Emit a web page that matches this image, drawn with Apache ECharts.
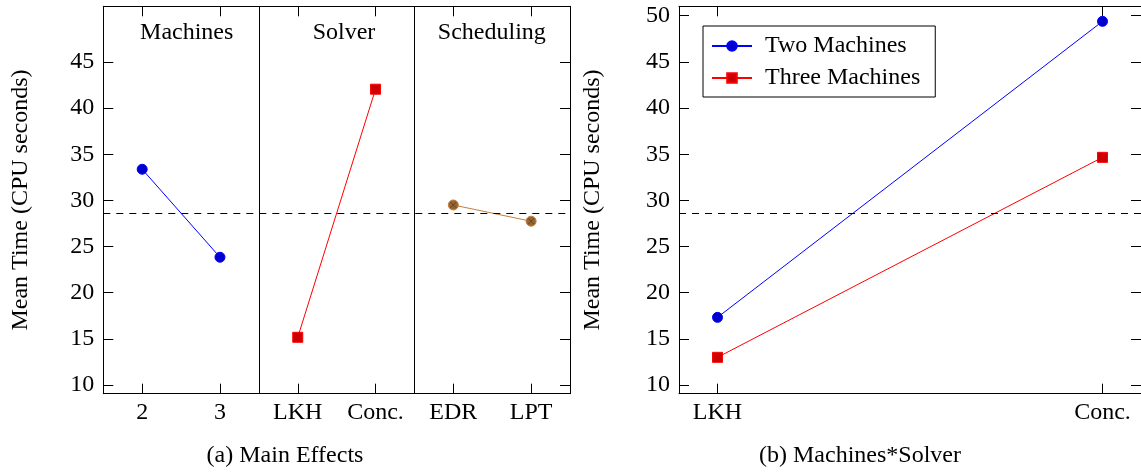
<!DOCTYPE html>
<html>
<head>
<meta charset="utf-8">
<style>
  html, body { margin: 0; padding: 0; background: #fff; }
  #chart { width: 1141px; height: 473px; }
</style>
<script src="https://cdn.jsdelivr.net/npm/echarts@6/dist/echarts.min.js"></script>
</head>
<body>
<div id="chart"></div>
<script>
// main effects, one pair of levels per factor
const factorNames = ['Machines', 'Solver', 'Scheduling']
const machineLevels = ['2', '3']
const machineMeans = [33.37, 23.84]
const solverLevels = ['LKH', 'Conc.']
const solverMeans = [15.17, 42.04]
const schedLevels = ['EDR', 'LPT']
const schedMeans = [29.5, 27.74]
const grandMean = 28.6

// interaction Machines*Solver
const twoMachines = [17.33, 49.39]
const threeMachines = [13.0, 34.66]

const yTicksLeft = [10, 15, 20, 25, 30, 35, 40, 45]
const yTicksRight = [10, 15, 20, 25, 30, 35, 40, 45, 50]

const FONT = 'Liberation Serif'
const FS = 24
const allLevels = machineLevels.concat(solverLevels, schedLevels)
const leftTickPos = allLevels.map((l, i) => i + 0.5)

// factor i, level j -> x = 2i + 0.5 + j
function toPairs (means, factor) {
  return means.map((v, j) => [2 * factor + 0.5 + j, v])
}

const chart = echarts.init(document.getElementById('chart'), null, { renderer: 'canvas' })

const axisLine = { show: true, onZero: false, lineStyle: { color: '#000', width: 1 } }
const labelStyle = { color: '#000', fontFamily: FONT, fontSize: FS }

function tickIn (values) {
  return { show: true, inside: true, length: 10, customValues: values, lineStyle: { color: '#000', width: 1 } }
}

const brown = '#bf8040'
const fontCss = FS + 'px "' + FONT + '"'

chart.setOption({
  animation: false,
  backgroundColor: '#fff',
  grid: [
    { left: 103.3, top: 6.3, width: 466.7, height: 387.4 },
    { left: 679, top: 6.3, width: 466.5, height: 387.4 }
  ],
  xAxis: [
    {
      gridIndex: 0, type: 'value', min: 0, max: 6, position: 'bottom',
      axisLine: axisLine, splitLine: { show: false },
      axisTick: tickIn(leftTickPos),
      axisLabel: Object.assign({ customValues: leftTickPos, margin: 7, formatter: v => allLevels[Math.round(v - 0.5)] }, labelStyle)
    },
    {
      gridIndex: 0, type: 'value', min: 0, max: 6, position: 'top',
      axisLine: axisLine, splitLine: { show: false },
      axisTick: tickIn(leftTickPos), axisLabel: { show: false }
    },
    {
      gridIndex: 1, type: 'value', min: -0.1, max: 1.1, position: 'bottom',
      axisLine: axisLine, splitLine: { show: false },
      axisTick: tickIn([0, 1]),
      axisLabel: Object.assign({ customValues: [0, 1], margin: 7, formatter: v => solverLevels[Math.round(v)] }, labelStyle)
    },
    {
      gridIndex: 1, type: 'value', min: -0.1, max: 1.1, position: 'top',
      axisLine: axisLine, splitLine: { show: false },
      axisTick: tickIn([0, 1]), axisLabel: { show: false }
    }
  ],
  yAxis: [
    {
      gridIndex: 0, type: 'value', min: 9.06, max: 51.02, position: 'left',
      name: 'Mean Time (CPU seconds)', nameLocation: 'middle', nameGap: 71, nameRotate: 90,
      nameTextStyle: { color: '#000', fontFamily: FONT, fontSize: FS },
      axisLine: axisLine, splitLine: { show: false },
      axisTick: tickIn(yTicksLeft),
      axisLabel: Object.assign({ customValues: yTicksLeft, margin: 9 }, labelStyle)
    },
    {
      gridIndex: 0, type: 'value', min: 9.06, max: 51.02, position: 'right',
      axisLine: axisLine, splitLine: { show: false },
      axisTick: tickIn(yTicksLeft), axisLabel: { show: false }
    },
    {
      gridIndex: 1, type: 'value', min: 9.06, max: 51.02, position: 'left',
      name: 'Mean Time (CPU seconds)', nameLocation: 'middle', nameGap: 74, nameRotate: 90,
      nameTextStyle: { color: '#000', fontFamily: FONT, fontSize: FS },
      axisLine: axisLine, splitLine: { show: false },
      axisTick: tickIn(yTicksRight),
      axisLabel: Object.assign({ customValues: yTicksRight, margin: 9 }, labelStyle)
    },
    {
      gridIndex: 1, type: 'value', min: 9.06, max: 51.02, position: 'right',
      axisLine: axisLine, splitLine: { show: false },
      axisTick: tickIn(yTicksRight), axisLabel: { show: false }
    }
  ],
  legend: {
    data: ['Two Machines', 'Three Machines'],
    orient: 'vertical',
    left: 703, top: 26,
    padding: [8, 15, 7, 8],
    itemGap: 8,
    itemWidth: 40, itemHeight: 12,
    borderColor: '#000', borderWidth: 1, borderRadius: 0,
    backgroundColor: '#fff',
    textStyle: { color: '#000', fontFamily: FONT, fontSize: FS, padding: [0, 0, 0, 8] }
  },
  series: [
    {
      name: 'Machines', type: 'line', xAxisIndex: 0, yAxisIndex: 0,
      data: toPairs(machineMeans, 0),
      symbol: 'circle', symbolSize: 10,
      lineStyle: { color: '#0000ff', width: 1 },
      itemStyle: { color: '#0000cc', borderColor: '#0000ff', borderWidth: 1 },
      markLine: {
        silent: true, symbol: 'none', label: { show: false },
        data: [
          { xAxis: 2, lineStyle: { color: '#000', width: 1, type: 'solid' } },
          { xAxis: 4, lineStyle: { color: '#000', width: 1, type: 'solid' } },
          { yAxis: grandMean, lineStyle: { color: '#000', width: 1, type: [7, 6] } }
        ]
      }
    },
    {
      name: 'Solver', type: 'line', xAxisIndex: 0, yAxisIndex: 0,
      data: toPairs(solverMeans, 1),
      symbol: 'rect', symbolSize: 10,
      lineStyle: { color: '#ff0000', width: 1 },
      itemStyle: { color: '#cc0000', borderColor: '#ff0000', borderWidth: 1 }
    },
    {
      name: 'Scheduling', type: 'line', xAxisIndex: 0, yAxisIndex: 0,
      data: toPairs(schedMeans, 2),
      symbol: 'circle', symbolSize: 10,
      lineStyle: { color: brown, width: 1 },
      itemStyle: { color: '#996633', borderColor: brown, borderWidth: 1 }
    },
    {
      // the cross inside the otimes marks
      name: 'SchedulingCross', type: 'scatter', xAxisIndex: 0, yAxisIndex: 0,
      data: toPairs(schedMeans, 2),
      symbol: 'path://M0,0L10,10M10,0L0,10', symbolSize: 6,
      itemStyle: { color: 'none', borderColor: '#5c3b1a', borderWidth: 1 },
      z: 5, silent: true
    },
    {
      name: 'Two Machines', type: 'line', xAxisIndex: 2, yAxisIndex: 2,
      data: twoMachines.map((v, j) => [j, v]),
      symbol: 'circle', symbolSize: 10,
      lineStyle: { color: '#0000ff', width: 1 },
      itemStyle: { color: '#0000cc', borderColor: '#0000ff', borderWidth: 1 },
      markLine: {
        silent: true, symbol: 'none', label: { show: false },
        data: [{ yAxis: grandMean, lineStyle: { color: '#000', width: 1, type: [7, 6] } }]
      }
    },
    {
      name: 'Three Machines', type: 'line', xAxisIndex: 2, yAxisIndex: 2,
      data: threeMachines.map((v, j) => [j, v]),
      symbol: 'rect', symbolSize: 10,
      lineStyle: { color: '#ff0000', width: 1 },
      itemStyle: { color: '#cc0000', borderColor: '#ff0000', borderWidth: 1 }
    }
  ],
  graphic: [
    { type: 'text', x: 186.7, y: 33, style: { text: factorNames[0], align: 'center', verticalAlign: 'middle', font: fontCss, fill: '#000' } },
    { type: 'text', x: 344, y: 33, style: { text: factorNames[1], align: 'center', verticalAlign: 'middle', font: fontCss, fill: '#000' } },
    { type: 'text', x: 491.8, y: 33, style: { text: factorNames[2], align: 'center', verticalAlign: 'middle', font: fontCss, fill: '#000' } },
    { type: 'text', x: 285, y: 456, style: { text: '(a) Main Effects', align: 'center', verticalAlign: 'middle', font: fontCss, fill: '#000' } },
    { type: 'text', x: 860, y: 456, style: { text: '(b) Machines*Solver', align: 'center', verticalAlign: 'middle', font: fontCss, fill: '#000' } }
  ]
})
</script>
</body>
</html>
